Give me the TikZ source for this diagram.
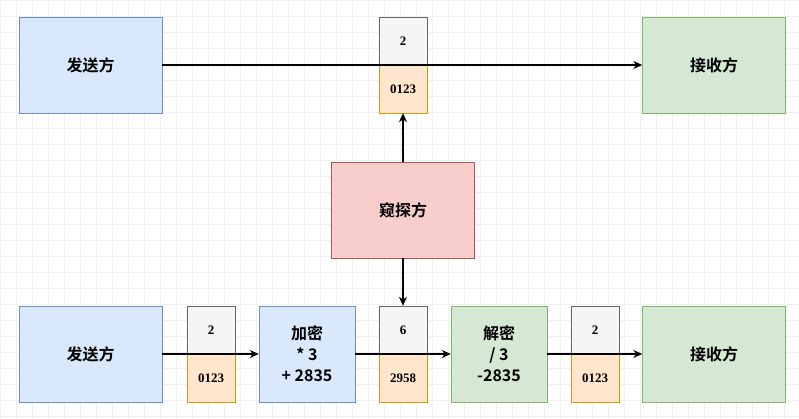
\documentclass[tikz,border=0pt]{standalone}
\usepackage{fontspec}
\setmainfont{Liberation Serif}
\newfontfamily\cjk{Noto Sans CJK SC}[BoldFont={Noto Sans CJK SC Bold}]
\usetikzlibrary{positioning, arrows.meta}
\definecolor{bluefill}{HTML}{DAE8FC}
\definecolor{blueline}{HTML}{6C8EBF}
\definecolor{greenfill}{HTML}{D5E8D4}
\definecolor{greenline}{HTML}{82B366}
\definecolor{redfill}{HTML}{F8CECC}
\definecolor{redline}{HTML}{B85450}
\definecolor{orangefill}{HTML}{FFE6CC}
\definecolor{orangeline}{HTML}{D79B00}
\definecolor{greyfill}{HTML}{F5F5F5}
\definecolor{greyline}{HTML}{666666}
\tikzset{
  party/.style={rectangle, draw=#1line, fill=#1fill, minimum width=143pt, minimum height=96pt, font=\cjk\bfseries\fontsize{16}{21}\selectfont, align=center},
  crypt/.style={rectangle, draw=#1line, fill=#1fill, minimum width=96pt, minimum height=96pt, font=\cjk\bfseries\fontsize{16}{21}\selectfont, align=center},
  keybox/.style={rectangle, draw=greyline, fill=greyfill, minimum width=48pt, minimum height=48pt, font=\bfseries\fontsize{13}{15}\selectfont},
  databox/.style={rectangle, draw=orangeline, fill=orangefill, minimum width=48pt, minimum height=48pt, font=\bfseries\fontsize{13}{15}\selectfont},
  flow/.style={line width=1.4pt, -{Stealth[length=9pt,width=8pt]}}
}
\begin{document}
\begin{tikzpicture}[x=1pt, y=-1pt]
\useasboundingbox (0,0) rectangle (799,419);
\draw[black!6] (0,0) grid[step=16pt] (799,419);
% top row
\node[party=blue] (send1) at (90.5,65) {发送方};
\node[party=green] (recv1) at (714,65) {接收方};
\node[keybox] (key0) at (403,41) {2};
\node[databox] (data0) at (403,89) {0123};
\draw[flow] (send1) -- (recv1);
% eavesdropper
\node[party=red] (spy) at (403,210) {窥探方};
\draw[flow] (spy) -- (data0);
% bottom row
\node[party=blue] (send2) at (90.5,354) {发送方};
\node[keybox] (key1) at (211,330) {2};
\node[databox] (data1) at (211,378) {0123};
\node[crypt=blue] (enc) at (307,354) {加密\\* 3\\+ 2835};
\node[keybox] (key2) at (403,330) {6};
\node[databox] (data2) at (403,378) {2958};
\node[crypt=green] (dec) at (499,354) {解密\\/ 3\\-2835};
\node[keybox] (key3) at (595,330) {2};
\node[databox] (data3) at (595,378) {0123};
\node[party=green] (recv2) at (714,354) {接收方};
\draw[flow] (send2) -- (enc);
\draw[flow] (enc) -- (dec);
\draw[flow] (dec) -- (recv2);
\draw[flow] (spy) -- (key2);
\end{tikzpicture}
\end{document}
